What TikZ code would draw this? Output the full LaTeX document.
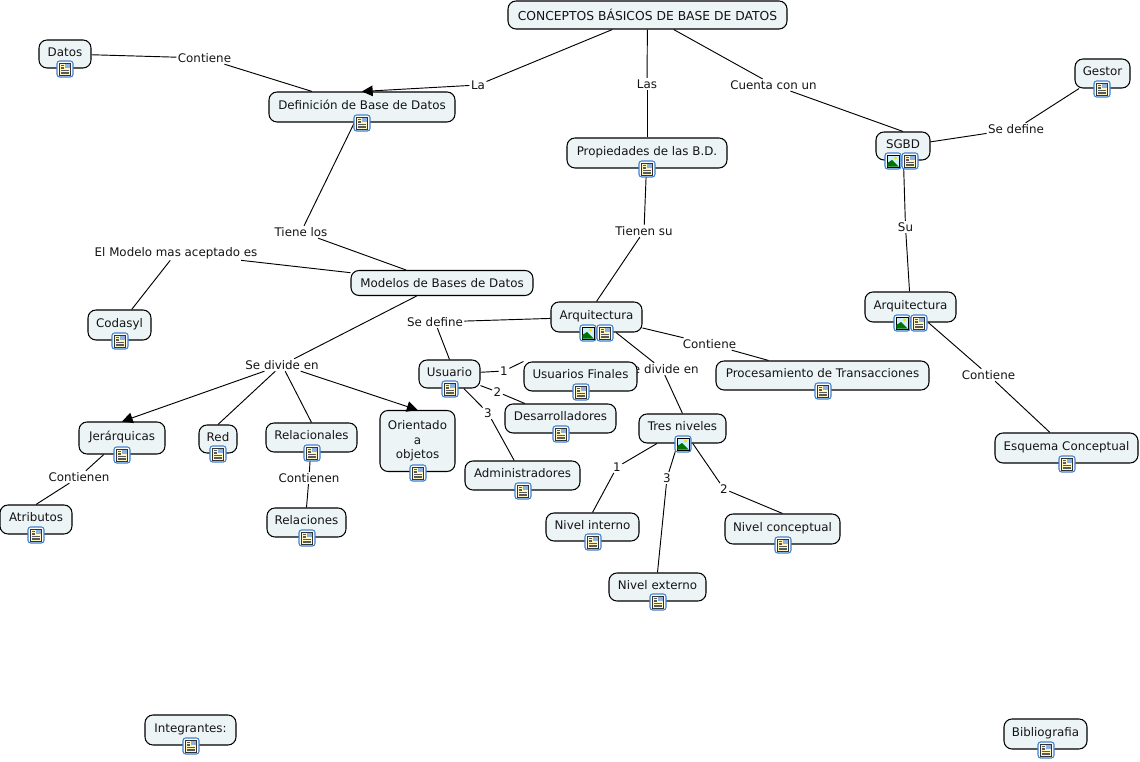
\documentclass[tikz,border=0pt]{standalone}
\usepackage{fontspec}
\setmainfont{DejaVu Sans}
\usetikzlibrary{arrows.meta}
\definecolor{boxfill}{HTML}{EDF4F6}
\definecolor{iconblue}{HTML}{3F7FCF}
\definecolor{paper}{HTML}{FFF6C0}
\tikzset{
  concept/.style 2 args={draw=black, line width=.8pt, fill=boxfill, rounded corners=6pt, inner sep=0pt,
    align=center, font=\fontsize{8.9}{10.8}\selectfont, text=black!92, minimum width=#1*.75pt, minimum height=#2*.75pt},
  withicon/.style={text height=6.6pt, text depth=3.4pt},
  linklabel/.style={fill=white, inner sep=1pt, font=\fontsize{8.9}{10.8}\selectfont, text=black!92},
  link/.style={line width=.7pt, black},
  tip/.style={link, -{Triangle[length=8pt,width=8pt]}},
  iconframe/.pic={\draw[iconblue, line width=.8pt, fill=white, rounded corners=2pt] (-8,-8) rectangle (8,8);},
  docicon/.pic={
    \pic {iconframe};
    \draw[black!80, line width=.4pt, fill=paper] (-5.5,-6) rectangle (5.5,6);
    \fill[iconblue!60] (0,-4.5) rectangle (4.5,-.5);
    \foreach \y in {1.5,3,4.5} \draw[black!65, line width=.25pt] (-4,\y) -- (4,\y);
    \foreach \y in {-3.5,-2,-.5} \draw[black!65, line width=.25pt] (-4,\y) -- (-1,\y);
  },
  imgicon/.pic={
    \pic {iconframe};
    \draw[black, line width=.5pt, fill=cyan!20] (-6,-6) rectangle (6,6);
    \fill[yellow!80!orange] (2.5,-3) circle (1.6);
    \fill[green!45!black] (-5.7,5.7) -- (-5.7,2) -- (-1,-1) -- (5.7,5.7) -- cycle;
  }
}
\begin{document}
\begin{tikzpicture}[x=.75pt, y=-.75pt]
  \useasboundingbox (0,0) rectangle (1140,762);
  % labels
  \node (lcontiene) [linklabel] at (204.5,58) {Contiene};
  \node (lla) [linklabel] at (478,85) {La};
  \node (llas) [linklabel] at (647,84) {Las};
  \node (lcuenta) [linklabel] at (773.5,85) {Cuenta con un};
  \node (lgestor) [linklabel] at (1016,129) {Se define};
  \node (lsu) [linklabel] at (905.5,227) {Su};
  \node (ltienensu) [linklabel] at (644,231) {Tienen su};
  \node (ltienelos) [linklabel] at (301,232) {Tiene los};
  \node (lmodelo) [linklabel] at (176,253) {El Modelo mas aceptado es};
  \node (lsedefine) [linklabel] at (435,322) {Se define};
  \node (lproc) [linklabel] at (709.5,344) {Contiene};
  \node (ltres) [linklabel] at (662,369) {Se divide en};
  \node (lesquema) [linklabel] at (988.5,375) {Contiene};
  \node (ldivide) [linklabel] at (282,365) {Se divide en};
  \node (luno) [linklabel] at (504,371) {1};
  \node (ldos) [linklabel] at (497.5,392) {2};
  \node (ltresu) [linklabel] at (488,413) {3};
  \node (latrib) [linklabel] at (79,477) {Contienen};
  \node (lrel) [linklabel] at (309,478) {Contienen};
  \node (lnuno) [linklabel] at (617,467) {1};
  \node (lntres) [linklabel] at (667,478) {3};
  \node (lndos) [linklabel] at (724,489) {2};
  % concepts
  \node (ROOT) [concept={279}{28}, font=\fontsize{9.25}{11}\selectfont] at (647.5,15) {CONCEPTOS BÁSICOS DE BASE DE DATOS};
  \node (datos) [concept={52}{28}, withicon] at (65,54) {Datos};
  \node (definicion) [concept={186}{30}, withicon] at (362,107) {Definición de Base de Datos};
  \node (propiedades) [concept={160}{30}, withicon] at (647,153) {Propiedades de las B.D.};
  \node (gestor) [concept={55}{29}, withicon] at (1102.5,73.5) {Gestor};
  \node (sgbd) [concept={54}{28}, withicon] at (903,146) {SGBD};
  \node (modelos) [concept={182}{25}] at (442,283) {Modelos de Bases de Datos};
  \node (codasyl) [concept={63}{30}, withicon] at (119.5,325) {Codasyl};
  \node (arqa) [concept={91}{30}, withicon] at (596.5,317) {Arquitectura};
  \node (arqb) [concept={91}{30}, withicon] at (910.5,307) {Arquitectura};
  \node (usuario) [concept={61}{28}, withicon] at (449.5,374) {Usuario};
  \node (usufinales) [concept={113}{29}, withicon] at (580.5,376.5) {Usuarios Finales};
  \node (desarrolladores) [concept={111}{29}, withicon] at (560.5,418.5) {Desarrolladores};
  \node (procesamiento) [concept={213}{29}, withicon] at (822.5,375.5) {Procesamiento de Transacciones};
  \node (tresniveles) [concept={87}{29}, withicon] at (682.5,428.5) {Tres niveles};
  \node (esquema) [concept={143}{30}, withicon] at (1066.5,448) {Esquema Conceptual};
  \node (jerarquicas) [concept={86}{32}, withicon] at (122,438) {Jerárquicas};
  \node (red) [concept={38}{28}, withicon] at (218,439) {Red};
  \node (relacionales) [concept={91}{29}, withicon] at (311.5,437.5) {Relacionales};
  \node (orientado) [concept={75}{61}] at (417.5,441) {Orientado\\a\\objetos};
  \node (administradores) [concept={115}{29}, withicon] at (522.5,475.5) {Administradores};
  \node (atributos) [concept={72}{29}, withicon] at (36,519.5) {Atributos};
  \node (relaciones) [concept={79}{29}, withicon] at (306.5,522.5) {Relaciones};
  \node (ninterno) [concept={93}{28}, withicon] at (592.5,527) {Nivel interno};
  \node (nconceptual) [concept={115}{30}, withicon] at (782.5,529) {Nivel conceptual};
  \node (nexterno) [concept={97}{28}, withicon] at (657.5,587) {Nivel externo};
  \node (integrantes) [concept={91}{30}, withicon] at (190.5,730) {Integrantes:};
  \node (bibliografia) [concept={83}{30}, withicon] at (1045.5,734) {Bibliografia};
  % connectors
  \foreach \a/\b in {datos/lcontiene, lcontiene/definicion, ROOT/lla, ROOT/llas, llas/propiedades,
      ROOT/lcuenta, lcuenta/sgbd.north, gestor/lgestor, lgestor/sgbd, sgbd/lsu, lsu/arqb, arqb/lesquema,
      lesquema/esquema, definicion/ltienelos, ltienelos/modelos, modelos/lmodelo, lmodelo/codasyl,
      modelos/ldivide, propiedades/ltienensu, ltienensu/arqa.north, arqa/lsedefine, lsedefine/usuario.north,
      arqa/lproc, lproc/procesamiento, arqa/ltres, ltres/tresniveles.north, usuario/luno, luno/usufinales.north west,
      usuario/ldos, ldos/desarrolladores, usuario/ltresu, ltresu/administradores, tresniveles/lnuno,
      lnuno/ninterno.north, tresniveles/lntres, lntres/nexterno.north, tresniveles/lndos, lndos/nconceptual.north,
      jerarquicas/latrib, latrib/atributos.north, relacionales/lrel, lrel/relaciones.north,
      ldivide/red.north, ldivide/relacionales.north}
    \draw[link] (\a) -- (\b);
  \draw[tip] (lla) -- (definicion.north);
  \draw[tip] (ldivide) -- (jerarquicas.north);
  \draw[tip] (ldivide) -- (orientado.north);
  % icons
  \foreach \x/\y in {65/69, 362/123, 647/169, 1102/89, 910/161, 120/341, 605/333, 919/323, 450/389,
      581/392, 561/434, 823/391, 1067/464, 122/455, 218/454, 312/453, 418/473, 523/491, 36/535,
      307/538, 593/542, 783/545, 658/602, 191/746, 1046/750}
    \pic at (\x,\y) {docicon};
  \foreach \x/\y in {893/161, 588/333, 902/323, 683/444}
    \pic at (\x,\y) {imgicon};
\end{tikzpicture}
\end{document}
